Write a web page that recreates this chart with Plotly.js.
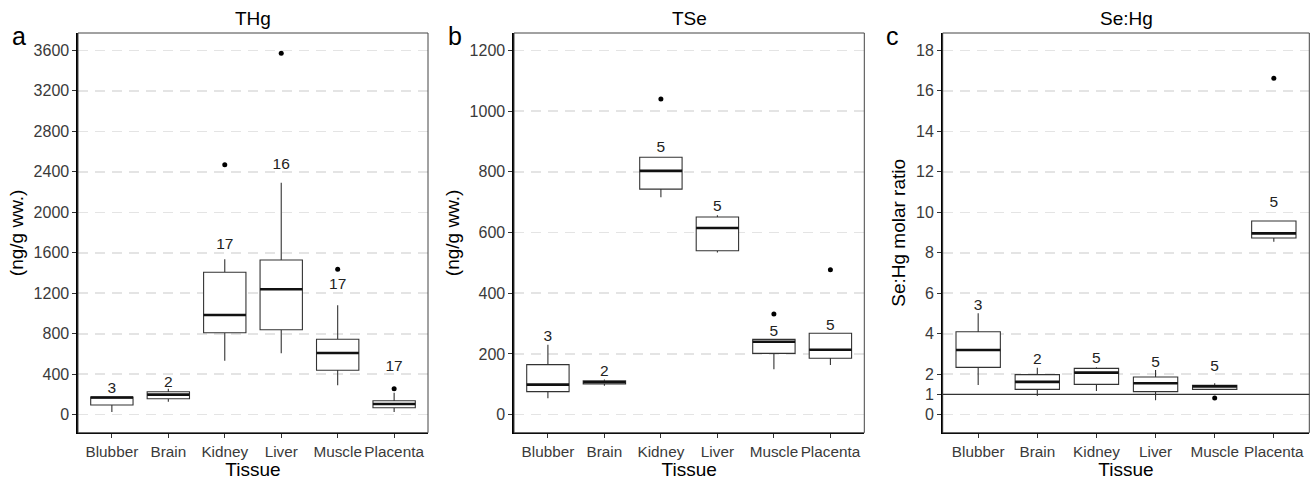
<!DOCTYPE html>
<html><head><meta charset="utf-8">
<script src="https://cdn.plot.ly/plotly-3.0.1.min.js"></script>
<style>html,body{margin:0;padding:0;background:#fff}#chart{width:1314px;height:480px}</style>
</head><body><div id="chart"></div>
<script>
const cats = ['Blubber','Brain','Kidney','Liver','Muscle','Placenta'];

// THg (ng/g ww.)
const thgQ1  = [96, 158, 810, 840, 439, 69];
const thgMed = [170, 198, 985, 1239, 610, 106];
const thgQ3  = [175, 227, 1407, 1529, 745, 138];
const thgLo  = [27, 128, 534, 607, 290, 27];
const thgHi  = [175, 257, 1535, 2293, 1081, 217];
const thgOutCat = ['Kidney','Liver','Muscle','Placenta'];
const thgOutVal = [2470, 3571, 1437, 257];
const thgN   = [3, 2, 17, 16, 17, 17];
const thgNy  = [254, 316, 1677, 2467, 1282, 474];

// TSe (ng/g ww.)
const tseQ1  = [76, 101, 743, 540, 202, 186];
const tseMed = [99, 107, 803, 615, 240, 214];
const tseQ3  = [165, 112, 848, 651, 248, 268];
const tseLo  = [54, 95, 716, 534, 150, 164];
const tseHi  = [230, 116, 848, 657, 250, 268];
const tseOutCat = ['Kidney','Muscle','Placenta'];
const tseOutVal = [1040, 332, 477];
const tseN   = [3, 2, 5, 5, 5, 5];
const tseNy  = [257, 141, 879, 683, 273, 293];

// Se:Hg molar ratio
const ratQ1  = [2.34, 1.25, 1.50, 1.14, 1.25, 8.73];
const ratMed = [3.20, 1.62, 2.08, 1.55, 1.40, 8.96];
const ratQ3  = [4.10, 1.98, 2.29, 1.86, 1.45, 9.57];
const ratLo  = [1.47, 0.92, 1.17, 0.71, 1.25, 8.55];
const ratHi  = [5.01, 2.32, 2.34, 2.21, 1.55, 9.57];
const ratOutCat = ['Muscle','Placenta'];
const ratOutVal = [0.83, 16.62];
const ratN   = [3, 2, 5, 5, 5, 5];
const ratNy  = [5.37, 2.70, 2.74, 2.54, 2.37, 10.44];
const ratioLine = 1;

const panels = [
  {id:'', q1:thgQ1, med:thgMed, q3:thgQ3, lo:thgLo, hi:thgHi, oc:thgOutCat, ov:thgOutVal, n:thgN, ny:thgNy,
   title:'THg', letter:'a', letterX:10, ytitle:'(ng/g ww.)', range:[-178, 3772], dtick:400, tickvals:null, dom:[78,428]},
  {id:'2', q1:tseQ1, med:tseMed, q3:tseQ3, lo:tseLo, hi:tseHi, oc:tseOutCat, ov:tseOutVal, n:tseN, ny:tseNy,
   title:'TSe', letter:'b', letterX:446, ytitle:'(ng/g ww.)', range:[-59.3, 1257], dtick:200, tickvals:null, dom:[514,864.3]},
  {id:'3', q1:ratQ1, med:ratMed, q3:ratQ3, lo:ratLo, hi:ratHi, oc:ratOutCat, ov:ratOutVal, n:ratN, ny:ratNy,
   title:'Se:Hg', letter:'c', letterX:884, ytitle:'Se:Hg molar ratio', range:[-0.89, 18.86], dtick:null,
   tickvals:[0,1,2,4,6,8,10,12,14,16,18], dom:[942.7,1309.3]}
];

const W = 1314, H = 480;
const idx = cats.map((c,i)=>i);
const half = 0.375;
const FONT = 'Liberation Sans, Arial, sans-serif';
const data = [];
const annotations = [];
const shapes = [];
const layout = {
  width: W, height: H, margin:{l:0,r:0,t:0,b:0},
  paper_bgcolor:'#fff', plot_bgcolor:'#fff', showlegend:false,
  font:{family:FONT, size:14, color:'#333'}
};
const yDom = [(H-432.7)/H, (H-33)/H];

panels.forEach(p => {
  const xa = 'x'+p.id, ya = 'y'+p.id;
  data.push({
    type:'box', x: idx, q1:p.q1, median:p.med, q3:p.q3, lowerfence:p.lo, upperfence:p.hi,
    xaxis:xa, yaxis:ya, width: 2*half, whiskerwidth:0, boxpoints:false,
    fillcolor:'#fff', line:{color:'#333', width:1.1}, hoverinfo:'skip'
  });
  const mx = [], my = [];
  idx.forEach(i => { mx.push(i-half, i+half, null); my.push(p.med[i], p.med[i], null); });
  data.push({type:'scatter', mode:'lines', x:mx, y:my, xaxis:xa, yaxis:ya,
    line:{color:'#111', width:2.6}, hoverinfo:'skip'});
  data.push({type:'scatter', mode:'markers', x:p.oc.map(c=>cats.indexOf(c)), y:p.ov,
    xaxis:xa, yaxis:ya, marker:{color:'#000', size:5}, hoverinfo:'skip'});
  data.push({type:'scatter', mode:'text', x:idx, y:p.ny, text:p.n.map(String),
    textposition:'middle center', textfont:{family:FONT, size:15.5, color:'#222'},
    xaxis:xa, yaxis:ya, hoverinfo:'skip'});

  const xKey = 'xaxis'+p.id, yKey = 'yaxis'+p.id;
  layout[xKey] = {
    domain:[p.dom[0]/W, p.dom[1]/W], anchor:ya, range:[-0.6, 5.6],
    tickmode:'array', tickvals:idx, ticktext:cats, tickangle:0, showgrid:false, zeroline:false,
    showline:true, linecolor:'#000', linewidth:1.6, ticks:'outside', ticklen:4, tickcolor:'#333',
    tickfont:{family:FONT, size:15.3, color:'#3a3a3a'},
    title:{text:'Tissue', font:{family:FONT, size:19, color:'#000'}, standoff:1}
  };
  const yax = {
    domain:yDom, anchor:xa, range:p.range, zeroline:false,
    showgrid:true, gridcolor:'#e4e4e4', griddash:'10px,7px', gridwidth:1.6,
    showline:true, linecolor:'#000', linewidth:1.6, ticks:'outside', ticklen:4, tickcolor:'#333',
    tickfont:{family:FONT, size:16, color:'#3a3a3a'},
    title:{text:p.ytitle, font:{family:FONT, size:19, color:'#000'}, standoff:5}
  };
  if (p.tickvals) { yax.tickmode='array'; yax.tickvals=p.tickvals; }
  else { yax.tick0=0; yax.dtick=p.dtick; }
  layout[yKey] = yax;

  shapes.push({type:'rect', xref:xa+' domain', yref:ya+' domain', x0:0, x1:1, y0:0, y1:1,
    line:{color:'#444', width:1}, fillcolor:'rgba(0,0,0,0)', layer:'above'});
  annotations.push({text:p.title, xref:xa+' domain', yref:'paper', x:0.5, y:(H-19)/H,
    xanchor:'center', yanchor:'middle', showarrow:false, font:{family:FONT, size:19, color:'#000'}});
  annotations.push({text:p.letter, xref:'paper', yref:'paper', x:p.letterX/W, y:(H-36)/H,
    xanchor:'left', yanchor:'middle', showarrow:false, font:{family:FONT, size:25, color:'#000'}});
});

shapes.push({type:'line', xref:'x3 domain', yref:'y3', x0:0, x1:1, y0:ratioLine, y1:ratioLine,
  line:{color:'#333', width:1.3}, layer:'above'});

layout.shapes = shapes;
layout.annotations = annotations;
Plotly.newPlot('chart', data, layout, {staticPlot:true});
</script></body></html>
